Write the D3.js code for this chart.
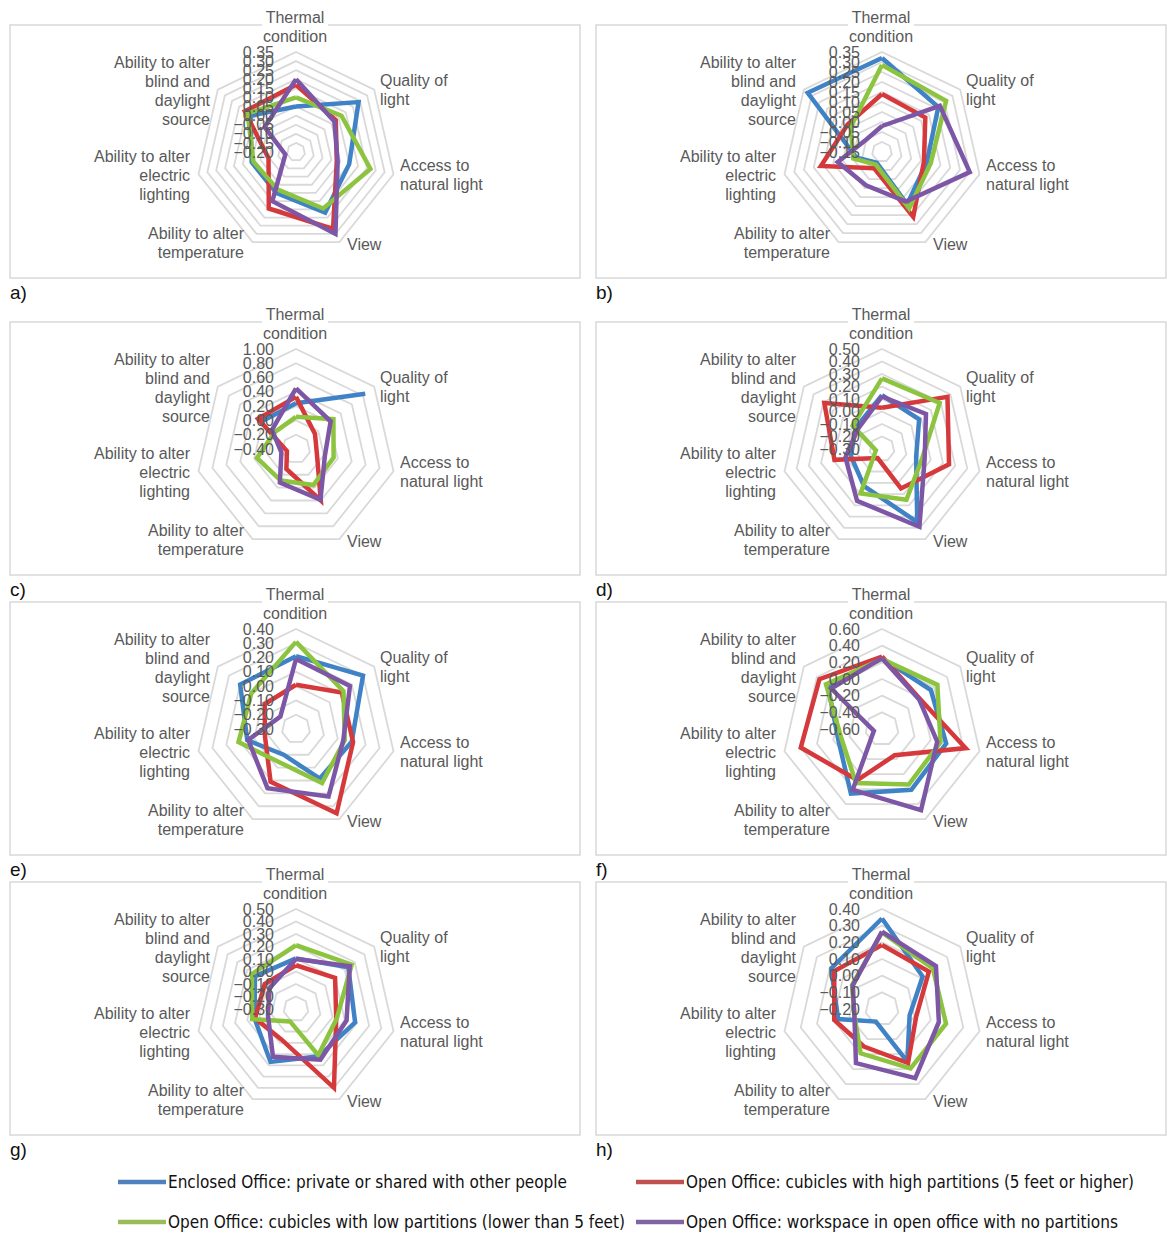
<!DOCTYPE html>
<html>
<head>
<meta charset="utf-8">
<script src="https://cdn.jsdelivr.net/npm/d3@7"></script>
<style>
  body { margin: 0; background: #fff; }
  svg { display: block; }
</style>
</head>
<body>
<svg id="chart" width="1170" height="1233"></svg>
<script>
// Seven satisfaction dimensions, clockwise from the top
const axisLabels = [
  ["Thermal", "condition"],
  ["Quality of", "light"],
  ["Access to", "natural light"],
  ["View"],
  ["Ability to alter", "temperature"],
  ["Ability to alter", "electric", "lighting"],
  ["Ability to alter", "blind and", "daylight", "source"]
];

const panelLetters = ["a)", "b)", "c)", "d)", "e)", "f)", "g)", "h)"];

// Radial axis tick values for each panel (first value sits at the centre)
const tickValues = [
  [-0.20, -0.15, -0.10, -0.05, 0.00, 0.05, 0.10, 0.15, 0.20, 0.25, 0.30, 0.35],
  [-0.15, -0.10, -0.05, 0.00, 0.05, 0.10, 0.15, 0.20, 0.25, 0.30, 0.35],
  [-0.40, -0.20, 0.00, 0.20, 0.40, 0.60, 0.80, 1.00],
  [-0.30, -0.20, -0.10, 0.00, 0.10, 0.20, 0.30, 0.40, 0.50],
  [-0.30, -0.20, -0.10, 0.00, 0.10, 0.20, 0.30, 0.40],
  [-0.60, -0.40, -0.20, 0.00, 0.20, 0.40, 0.60],
  [-0.30, -0.20, -0.10, 0.00, 0.10, 0.20, 0.30, 0.40, 0.50],
  [-0.20, -0.10, 0.00, 0.10, 0.20, 0.30, 0.40]
];

const seriesNames = [
  "Enclosed Office: private or shared with other people",
  "Open Office: cubicles with high partitions (5 feet or higher)",
  "Open Office: cubicles with low partitions (lower than 5 feet)",
  "Open Office: workspace in open office with no partitions"
];

// One row per panel (a..h), one value per dimension; null = no response
const enclosed = [
  [0.05, 0.24, 0.10, 0.17, 0.05, 0.05, 0.12],
  [0.32, 0.21, 0.08, 0.14, -0.09, -0.02, 0.325],
  [0.24, 0.84, null, null, null, null, 0.22],
  [0.13, 0.08, -0.02, 0.35, 0.03, -0.045, -0.03],
  [0.21, 0.30, 0.10, 0.085, -0.10, 0.05, 0.20],
  [0.25, 0.15, 0.19, 0.21, 0.26, -0.06, 0.23],
  [0.105, 0.235, 0.185, 0.12, 0.17, 0.04, 0.12],
  [0.343, 0.112, -0.03, 0.15, -0.116, 0.07, 0.19]
];
const highPartitions = [
  [0.17, 0.08, 0.03, 0.27, 0.145, -0.045, 0.16],
  [0.14, 0.127, 0.065, 0.21, -0.06, 0.163, 0.07],
  [0.33, -0.06, -0.10, 0.40, -0.09, -0.27, 0.28],
  [0.03, 0.37, 0.25, 0.05, -0.22, 0.09, 0.29],
  [0.01, 0.11, 0.11, 0.355, 0.11, -0.077, -0.02],
  [0.27, -0.02, 0.43, -0.25, 0.08, 0.40, 0.36],
  [0.05, 0.10, 0.03, 0.40, -0.03, 0.036, 0.02],
  [0.184, 0.16, 0.01, 0.16, 0.05, 0.094, 0.166]
];
const lowPartitions = [
  [0.10, 0.12, 0.22, 0.145, 0.03, 0.04, 0.14],
  [0.285, 0.26, 0.10, 0.163, -0.08, -0.003, 0.05],
  [0.05, 0.27, 0.14, 0.16, 0.09, 0.16, -0.02],
  [0.265, 0.29, 0.03, 0.15, 0.095, -0.25, 0.00],
  [0.31, 0.125, 0.05, 0.12, -0.04, 0.113, 0.10],
  [0.24, 0.25, 0.12, 0.14, 0.12, -0.10, 0.26],
  [0.21, 0.27, 0.035, 0.11, -0.19, 0.06, 0.15],
  [0.26, 0.19, 0.194, 0.195, 0.095, -0.03, 0.03]
];
const noPartitions = [
  [0.20, 0.07, 0.035, 0.30, 0.10, -0.14, 0.02],
  [-0.02, 0.22, 0.30, 0.125, 0.035, 0.077, -0.05],
  [0.45, 0.22, 0.015, 0.39, 0.12, -0.19, 0.03],
  [0.12, 0.15, 0.05, 0.39, 0.16, 0.00, -0.05],
  [0.19, 0.183, 0.04, 0.225, 0.16, 0.043, -0.16],
  [0.25, -0.03, 0.08, 0.48, 0.21, -0.50, 0.18],
  [0.10, 0.25, 0.115, 0.15, 0.125, -0.07, -0.03],
  [0.264, 0.214, 0.15, 0.26, 0.16, -0.03, 0.025]
];

const seriesData = [enclosed, highPartitions, lowPartitions, noPartitions];
const lineColors = ["#3f83c6", "#d6393b", "#8cc43f", "#7e56a6"];
const legendColors = ["#4f81bd", "#c0504d", "#9bbb59", "#8064a2"];

// ---- layout ----
const svg = d3.select("#chart");
const frameW = 570, frameH = 253;
const colX = [10, 596];
const rowY = [25, 322, 602, 882];
const centreDX = 286, centreDY = 127;
const R = 100;
const nAxes = axisLabels.length;
const angleOf = i => i * 2 * Math.PI / nAxes;
const textColor = "#595959";
const fontFamily = "'Liberation Sans', Arial, Helvetica, sans-serif";

// where each dimension's label sits, relative to the centre
const labelPlacement = [
  { dx: -1, dy: -129, anchor: "middle" },
  { dx: 84, dy: -66, anchor: "start" },
  { dx: 104, dy: 19, anchor: "start" },
  { dx: 51, dy: 98, anchor: "start" },
  { dx: -52, dy: 87, anchor: "end" },
  { dx: -106, dy: 10, anchor: "end" },
  { dx: -86, dy: -84, anchor: "end" }
];
const lineHeight = 19;

panelLetters.forEach((letter, p) => {
  const col = p % 2, row = Math.floor(p / 2);
  const fx = colX[col], fy = rowY[row];
  const cx = fx + centreDX, cy = fy + centreDY;
  const ticks = tickValues[p];
  const r = d3.scaleLinear().domain([ticks[0], ticks[ticks.length - 1]]).range([0, R]);

  const g = svg.append("g").attr("class", "panel");

  g.append("rect")
    .attr("x", fx).attr("y", fy)
    .attr("width", frameW).attr("height", frameH)
    .attr("fill", "none").attr("stroke", "#d9d9d9").attr("stroke-width", 1.5);

  g.append("text")
    .attr("x", fx).attr("y", fy + frameH + 21)
    .attr("font-family", fontFamily).attr("font-size", 19)
    .attr("fill", "#111").text(letter);

  const plot = g.append("g").attr("transform", `translate(${cx},${cy})`);

  // grid rings
  const ring = d3.lineRadial()
    .angle((d, i) => angleOf(i))
    .radius(d => d)
    .curve(d3.curveLinearClosed);
  plot.selectAll("path.ring")
    .data(ticks.slice(1))
    .join("path")
    .attr("class", "ring")
    .attr("d", t => ring(d3.range(nAxes).map(() => r(t))))
    .attr("fill", "none")
    .attr("stroke", "#d9d9d9")
    .attr("stroke-width", 1.8);

  // series polygons
  const radial = d3.lineRadial()
    .defined(d => d.v != null)
    .angle(d => angleOf(d.i))
    .radius(d => r(d.v));
  seriesData.forEach((series, s) => {
    const vals = series[p];
    const pts = d3.range(nAxes + 1).map(k => ({ i: k % nAxes, v: vals[k % nAxes] }));
    plot.append("path")
      .attr("d", radial(pts))
      .attr("fill", "none")
      .attr("stroke", lineColors[s])
      .attr("stroke-width", 4.5)
      .attr("stroke-linejoin", "miter");
  });

  // radial tick labels along the top axis
  plot.selectAll("text.tick")
    .data(ticks)
    .join("text")
    .attr("class", "tick")
    .attr("x", -22)
    .attr("y", t => -r(t))
    .attr("dy", "0.35em")
    .attr("text-anchor", "end")
    .attr("font-family", fontFamily)
    .attr("font-size", 16)
    .attr("fill", textColor)
    .text(t => d3.format(".2f")(t));

  // dimension labels
  axisLabels.forEach((lines, k) => {
    const pl = labelPlacement[k];
    const tg = plot.append("g");
    const txt = tg.append("text")
      .attr("text-anchor", pl.anchor)
      .attr("font-family", fontFamily)
      .attr("font-size", 16)
      .attr("fill", textColor);
    lines.forEach((ln, j) => {
      txt.append("tspan")
        .attr("x", pl.dx)
        .attr("y", pl.dy + j * lineHeight)
        .text(ln);
    });
    if (k === 0) {
      // the top label breaks the frame line
      const bb = txt.node().getBBox();
      tg.insert("rect", "text")
        .attr("x", bb.x - 1).attr("y", bb.y)
        .attr("width", bb.width + 2).attr("height", bb.height)
        .attr("fill", "#fff");
    }
  });
});

// ---- legend ----
const legendItems = [
  { x: 118, y: 1182, len: 399 },
  { x: 636, y: 1182, len: 448 },
  { x: 118, y: 1222, len: 457 },
  { x: 636, y: 1222, len: 432 }
];
const legend = svg.append("g").attr("class", "legend");
seriesNames.forEach((name, s) => {
  const it = legendItems[s];
  legend.append("line")
    .attr("x1", it.x).attr("x2", it.x + 48)
    .attr("y1", it.y).attr("y2", it.y)
    .attr("stroke", legendColors[s]).attr("stroke-width", 4.5);
  legend.append("text")
    .attr("x", it.x + 50).attr("y", it.y)
    .attr("dy", "0.35em")
    .attr("font-family", "'Liberation Sans Narrow', 'DejaVu Sans Condensed', 'Roboto', sans-serif")
    .attr("font-size", 17)
    .attr("fill", "#111")
    .attr("textLength", it.len)
    .attr("lengthAdjust", "spacingAndGlyphs")
    .text(name);
});
</script>
</body>
</html>
